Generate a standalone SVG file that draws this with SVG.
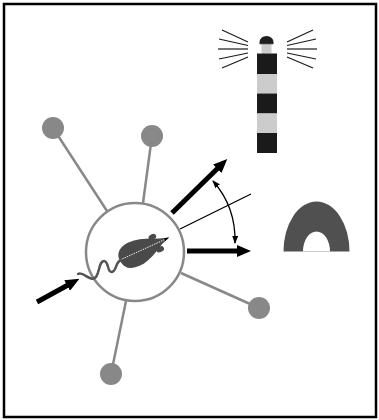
<svg xmlns="http://www.w3.org/2000/svg" width="379" height="420" viewBox="0 0 379 420">
  <style>
    .spoke { stroke: #888888; stroke-width: 2.5; fill: none; }
    .ball { fill: #888888; }
    .thick { stroke: #000000; stroke-width: 5; fill: none; }
    .thin { stroke: #000000; stroke-width: 1.3; fill: none; }
    .ray { stroke: #1a1a1a; stroke-width: 1.2; fill: none; }
  </style>
  <defs>
    <marker id="bigHead" viewBox="0 0 14 12" refX="1" refY="6" markerWidth="14" markerHeight="12" markerUnits="userSpaceOnUse" orient="auto">
      <path d="M0,0 L14,6 L0,12 Z" fill="#000000"/>
    </marker>
    <marker id="smallHead" viewBox="0 0 8 6" refX="7" refY="3" markerWidth="8" markerHeight="6" markerUnits="userSpaceOnUse" orient="auto-start-reverse">
      <path d="M0,0 L8,3 L0,6 Z" fill="#000000"/>
    </marker>
  </defs>

  <rect x="0" y="0" width="379" height="420" fill="#ffffff"/>
  <!-- frame -->
  <rect x="4" y="4" width="372" height="413" fill="none" stroke="#000000" stroke-width="2.5"/>

  <!-- connectors -->
  <g id="connectors">
    <line class="spoke" x1="53" y1="128" x2="107" y2="211"/>
    <line class="spoke" x1="152" y1="136" x2="143" y2="203"/>
    <line class="spoke" x1="181" y1="273" x2="259" y2="308"/>
    <line class="spoke" x1="126" y1="301" x2="111" y2="374"/>
    <line class="thick" x1="172" y1="213" x2="218" y2="168" marker-end="url(#bigHead)"/>
    <line class="thick" x1="187" y1="251" x2="238" y2="251" marker-end="url(#bigHead)"/>
    <line class="thick" x1="37" y1="302" x2="68" y2="285" marker-end="url(#bigHead)"/>
    <line class="thin" x1="180" y1="229" x2="251" y2="194"/>
    <path class="thin" d="M213,181 Q236,207 235,243" marker-start="url(#smallHead)" marker-end="url(#smallHead)"/>
  </g>

  <!-- outer nodes -->
  <g id="node-top-left"><circle class="ball" cx="53" cy="128" r="11"/></g>
  <g id="node-top"><circle class="ball" cx="152" cy="136" r="11"/></g>
  <g id="node-right"><circle class="ball" cx="259" cy="308" r="11"/></g>
  <g id="node-bottom"><circle class="ball" cx="111" cy="374" r="11"/></g>

  <!-- central cell with swimmer -->
  <g id="center">
    <circle cx="135" cy="252" r="49" fill="#ffffff" stroke="#888888" stroke-width="2.5"/>
    <g transform="translate(120,260) rotate(-24.6)">
      <ellipse cx="39" cy="-7.5" rx="4" ry="2.8" fill="#4a4a4a"/>
      <ellipse cx="41" cy="7" rx="4" ry="2.8" fill="#4a4a4a"/>
      <path d="M0,3 C-2,-8 6,-12.5 15,-12.5 C25,-12.5 35,-8 45,-3 L54,0 L45,3 C37,7 27,13.5 16,13.5 C5,13.5 1,9 0,3 Z" fill="#4a4a4a"/>
      <line x1="0" y1="0" x2="52" y2="0" stroke="#ffffff" stroke-width="0.8" stroke-dasharray="1.5,1"/>
      <path d="M49,-1.5 L54,0 L49,1.5 Z" fill="#000000"/>
    </g>
    <path d="M78,274 C84,271 90,283 96,277 C100,271 99,261 104,261 C109,261 107,273 112,272 C117,271 115,262 121,260" fill="none" stroke="#555555" stroke-width="2.5" stroke-linecap="round"/>
  </g>

  <!-- lighthouse -->
  <g id="lighthouse">
    <g class="ray-left">
      <line class="ray" x1="222" y1="30" x2="248" y2="42"/>
      <line class="ray" x1="219" y1="39" x2="248" y2="45.5"/>
      <line class="ray" x1="218" y1="49" x2="248" y2="49"/>
      <line class="ray" x1="219" y1="59" x2="248" y2="53"/>
      <line class="ray" x1="222" y1="68" x2="248" y2="57"/>
    </g>
    <g class="ray-right">
      <line class="ray" x1="313" y1="30" x2="287" y2="42"/>
      <line class="ray" x1="316" y1="39" x2="287" y2="45.5"/>
      <line class="ray" x1="317" y1="49" x2="287" y2="49"/>
      <line class="ray" x1="316" y1="59" x2="287" y2="53"/>
      <line class="ray" x1="313" y1="68" x2="287" y2="57"/>
    </g>
    <rect x="261.5" y="44" width="10" height="9.5" fill="#cccccc"/>
    <path d="M259.5,44 L259.5,42 A7,6 0 0 1 273.5,42 L273.5,44 Z" fill="#1f1f1f"/>
    <line x1="260" y1="44.3" x2="273" y2="44.3" stroke="#999999" stroke-width="0.8"/>
    <rect x="257" y="53.5" width="20" height="20.5" fill="#1a1a1a"/>
    <rect x="257" y="74" width="20" height="19.5" fill="#cccccc"/>
    <rect x="257" y="93.5" width="20" height="20" fill="#1a1a1a"/>
    <rect x="257" y="113.5" width="20" height="19.5" fill="#cccccc"/>
    <rect x="257" y="133" width="20" height="20" fill="#1a1a1a"/>
  </g>

  <!-- arch -->
  <g id="arch">
    <path d="M283.5,251.5 A33,50 0 0 1 349.5,251.5 L330,251.5 A13.5,20 0 0 0 303,251.5 Z" fill="#505050"/>
    <line x1="303" y1="251.5" x2="330" y2="251.5" stroke="#cccccc" stroke-width="1"/>
  </g>
</svg>
